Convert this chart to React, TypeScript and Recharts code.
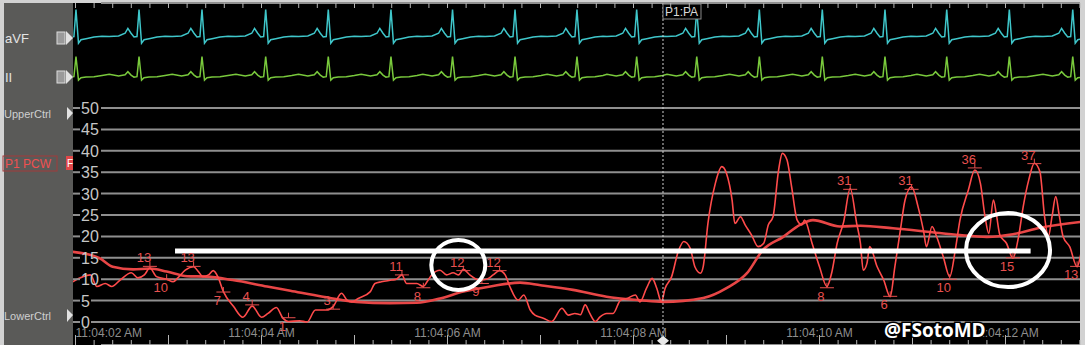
import React from "react";
import {
  CartesianGrid,
  ComposedChart,
  Line,
  ReferenceDot,
  ReferenceLine,
  Scatter,
  XAxis,
  YAxis,
} from "recharts";

// time = seconds after 11:04:02 AM, pressure in mmHg
const PCW: [number, number][] = [
  [-0.03, 9.4], [0.16, 11], [0.23, 8.3], [0.32, 9], [0.39, 8.3], [0.48, 9.8], [0.6, 11.5],
  [0.67, 10.3], [0.74, 11], [0.8, 12.6], [0.87, 10.6], [0.98, 10], [1.05, 9.4], [1.1, 10.3],
  [1.18, 12.1], [1.27, 12.9], [1.32, 11.8], [1.37, 10.6], [1.43, 11], [1.48, 12], [1.53, 10.6],
  [1.59, 7.1], [1.7, 3.6], [1.8, 1.1], [1.9, 3.7], [2.0, 1.1], [2.07, 2], [2.16, 3.4],
  [2.23, 0.9], [2.29, 0.1], [2.41, 0.3], [2.49, 0], [2.58, 2.8], [2.7, 2.8], [2.77, 3.6],
  [2.86, 6.7], [2.92, 5.1], [2.97, 4.7], [3.04, 5.5], [3.17, 7.1], [3.22, 9], [3.29, 9.4],
  [3.4, 9.8], [3.45, 10], [3.51, 11], [3.56, 9], [3.67, 9], [3.74, 8.3], [3.78, 9.4],
  [3.83, 11], [3.92, 12.1], [3.99, 11], [4.06, 11.5], [4.12, 11], [4.17, 12.3], [4.24, 11],
  [4.31, 10], [4.37, 9.8], [4.44, 10.2], [4.49, 11], [4.56, 12], [4.62, 11], [4.67, 8.3],
  [4.76, 5.1], [4.82, 6.3], [4.89, 2.8], [4.94, 1.6], [5.03, 0.9], [5.12, 0.1], [5.23, 3.2],
  [5.3, 1.6], [5.37, 2], [5.43, 1.7], [5.48, 4], [5.53, 2], [5.59, 0.1], [5.64, 1.2],
  [5.71, 2], [5.78, 2], [5.86, 5.1], [5.93, 5.5], [6.02, 6.3], [6.07, 4.7], [6.14, 7.9],
  [6.2, 10.2], [6.25, 7.9], [6.3, 4.7], [6.34, 7.9], [6.41, 10.6], [6.48, 16.4], [6.54, 18.8],
  [6.61, 17.2], [6.66, 12.9], [6.72, 11.4], [6.75, 13], [6.8, 23], [6.88, 32.4], [6.95, 36.3],
  [7.0, 34.7], [7.06, 28.5], [7.09, 23], [7.15, 24.6], [7.2, 22.7], [7.27, 20.3], [7.34, 17.6],
  [7.4, 18.4], [7.45, 22.7], [7.5, 24.6], [7.56, 35.5], [7.6, 39.4], [7.65, 37.9], [7.7, 31.6],
  [7.76, 23.8], [7.81, 22.7], [7.84, 23.8], [7.92, 18.4], [8.0, 12.9], [8.08, 8.3], [8.13, 11.4],
  [8.19, 18.4], [8.26, 23.4], [8.33, 31.2], [8.4, 23], [8.44, 18.4], [8.47, 12.1], [8.51, 13.7],
  [8.54, 17.6], [8.62, 12.9], [8.69, 9.8], [8.76, 5.9], [8.81, 12.9], [8.87, 21.5], [8.92, 28.5],
  [8.99, 31.6], [9.06, 26.9], [9.12, 21.1], [9.15, 17.6], [9.21, 22.3], [9.26, 19.9], [9.33, 15.3],
  [9.4, 10.6], [9.46, 16.8], [9.51, 23.8], [9.6, 30.8], [9.67, 35.5], [9.73, 32.4], [9.78, 24.6],
  [9.82, 20.7], [9.87, 28.5], [9.9, 25.4], [9.94, 20.3], [10.01, 18.4], [10.08, 14.9], [10.14, 19.9],
  [10.19, 26.9], [10.25, 33.2], [10.31, 37.1], [10.37, 35.1], [10.42, 24.6], [10.46, 19.9],
  [10.5, 24.6], [10.54, 29.3], [10.58, 24.6], [10.62, 19.9], [10.69, 17.6], [10.77, 12.9],
  [10.82, 16.8], [10.86, 20],
];

const PCW_MEAN: [number, number][] = [
  [-0.03, 16.4], [0.26, 14.9], [0.4, 12.9], [0.62, 12.3], [0.8, 12.5], [0.98, 11.8], [1.2, 10.7],
  [1.41, 10.6], [1.69, 9.8], [2.06, 8.3], [2.31, 7.3], [2.66, 5.9], [3.02, 4.7], [3.38, 4.4],
  [3.67, 4.5], [3.92, 5.5], [4.17, 7.1], [4.46, 8.3], [4.78, 9.2], [5.0, 8.6], [5.35, 7.5],
  [5.71, 5.9], [6.07, 5.1], [6.32, 4.7], [6.75, 5.6], [7.0, 7.9], [7.22, 11.4], [7.39, 16.8],
  [7.61, 19.9], [7.79, 22.7], [7.93, 23.8], [8.22, 22.3], [8.44, 22.5], [8.79, 21.9],
  [9.16, 21.1], [9.51, 20.3], [9.8, 19.9], [10.08, 20.5], [10.37, 22], [10.86, 23.5],
];

// peak / trough readouts on the PCW trace
const MARK_T = [0.8, 0.98, 1.27, 1.59, 1.9, 2.29, 2.77, 3.51, 3.74, 4.17, 4.37, 4.56, 8.08, 8.33, 8.76, 8.99, 9.4, 9.67, 10.08, 10.31, 10.77];
const MARK_V = [13, 10, 13, 7, 4, 1, 3, 11, 8, 12, 9, 12, 8, 31, 6, 31, 10, 36, 15, 37, 13];
const MARK_KIND = ["max", "min", "max", "min", "max", "min", "max", "max", "min", "max", "min", "max", "min", "max", "min", "max", "min", "max", "min", "max", "min"];

const R_TIMES = [0.005, 0.683, 1.36, 2.045, 2.718, 3.392, 4.054, 4.726, 5.392, 6.034, 6.68, 7.353, 8.03, 8.704, 9.368, 10.041, 10.723];
const BEAT_DT = [-0.32, -0.22, -0.15, -0.12, -0.086, -0.054, -0.022, 0, 0.027, 0.054, 0.108, 0.194, 0.28];
const BEAT_AVF = [0, 0.02, 0.12, 0.3, 0.12, -0.02, 0, 1.0, -0.25, -0.12, -0.08, -0.02, 0.01];
const BEAT_II = [0.12, 0.03, 0.1, 0.25, 0.08, -0.02, 0, 1.0, -0.17, -0.05, -0.02, 0, 0.06];

const TIME_LABELS = ["11:04:02 AM", "11:04:04 AM", "11:04:06 AM", "11:04:08 AM", "11:04:10 AM", "11:04:12 AM"];
const P_TICKS = [0, 5, 10, 15, 20, 25, 30, 35, 40, 45, 50];

// overlays
const REF_LEVEL = 16.6;
const REF_FROM = 1.07;
const REF_TO = 10.27;
const CIRCLE_T = [4.116, 10.027];
const CIRCLE_V = [13.3, 16.8];
const PA_MARK = 6.317;

const W = 1085;
const H = 345;
const LEFT = 73;
const T_DOMAIN = [-0.027, 10.801];
const P_DOMAIN = [-5.374, 74.533];
const AVF_DOMAIN = [-11.426, 1.2407];
const II_DOMAIN = [-13.415, 3.685];
const TIME_TICKS = Array.from({ length: 55 }, (_, i) => Math.round(i * 2) / 10);

const RED = "#ff4b4b";
const LABEL_RED = "#e8504f";
const GRID = "#8f8f8f";
const FONT = "'Liberation Sans', Arial, sans-serif";

const pcwData = PCW.map(([t, v]) => ({ t, v }));
const meanData = PCW_MEAN.map(([t, v]) => ({ t, v }));
const marks = MARK_T.map((t, i) => ({ t, v: MARK_V[i], kind: MARK_KIND[i] }));
const ecg = R_TIMES.flatMap((r) =>
  BEAT_DT.map((d, i) => ({ t: Math.round((r + d) * 1000) / 1000, avf: BEAT_AVF[i], ii: BEAT_II[i] }))
);

function TimeTick(props: any) {
  const { x, payload } = props;
  const t = payload.value;
  const whole = Math.abs(t - Math.round(t)) < 0.01;
  const idx = Math.round(t) / 2;
  const label = whole && Math.round(t) % 2 === 0 ? TIME_LABELS[idx] : null;
  return (
    <g>
      <line x1={x} x2={x} y1={3} y2={8} stroke="#b5b5b5" strokeWidth={1} />
      <line x1={x} x2={x} y1={whole ? 335 : 340} y2={H} stroke="#b5b5b5" strokeWidth={1} />
      {label && (
        <text x={idx === 0 ? x : x} y={337} textAnchor={idx === 0 ? "start" : "middle"} fontSize={12} fill="#8e8e8e" fontFamily={FONT}>
          {label}
        </text>
      )}
    </g>
  );
}

function PTick(props: any) {
  const { y, payload } = props;
  return (
    <g>
      <line x1={LEFT} x2={LEFT + 7} y1={y} y2={y} stroke={GRID} strokeWidth={2} />
      <text x={LEFT + 8} y={y + 6} fontSize={16} fill="#c6c6c6" fontFamily={FONT}>
        {payload.value}
      </text>
    </g>
  );
}

function Mark(props: any) {
  const { cx, cy, payload } = props;
  const peak = payload.kind === "max";
  return (
    <g>
      <line x1={cx - 7} x2={cx + 7} y1={cy} y2={cy} stroke={LABEL_RED} strokeWidth={1} />
      <line x1={cx} x2={cx} y1={cy - 5} y2={cy} stroke={LABEL_RED} strokeWidth={1} />
      <text x={cx - 6} y={peak ? cy - 4 : cy + 13} textAnchor="middle" fontSize={13} fill={LABEL_RED} fontFamily={FONT}>
        {payload.v}
      </text>
    </g>
  );
}

const CIRCLE_R = [
  [27, 25],
  [42, 37],
];

export default function App() {
  return (
    <div style={{ position: "absolute", left: 0, top: 0, width: W, height: H, background: "#d2d2d2", overflow: "hidden" }}>
      <div style={{ position: "absolute", left: 4, top: 3, width: LEFT - 4, height: H - 3, background: "#5a5a58" }} />
      <div style={{ position: "absolute", left: LEFT, top: 3, width: 1007, height: H - 3, background: "#000" }} />
      <div style={{ position: "absolute", left: 0, top: 0 }}>
        <ComposedChart width={W} height={H} margin={{ top: 3, right: 5, bottom: 0, left: LEFT }}>
          <CartesianGrid
            yAxisId="p"
            vertical={false}
            horizontal={(p: any) => (
              <line key={p.key} x1={p.index < 2 ? LEFT + 18 : LEFT + 28} x2={p.x2} y1={p.y1} y2={p.y2} stroke={GRID} strokeWidth={2} />
            )}
          />
          <XAxis
            dataKey="t"
            type="number"
            domain={T_DOMAIN}
            allowDataOverflow
            ticks={TIME_TICKS}
            interval={0}
            mirror
            axisLine={false}
            tickLine={false}
            tick={<TimeTick />}
          />
          <YAxis
            yAxisId="p"
            type="number"
            domain={P_DOMAIN}
            allowDataOverflow
            ticks={P_TICKS}
            interval={0}
            mirror
            axisLine={false}
            tickLine={false}
            tick={<PTick />}
          />
          <YAxis yAxisId="avf" type="number" domain={AVF_DOMAIN} allowDataOverflow hide />
          <YAxis yAxisId="ii" type="number" domain={II_DOMAIN} allowDataOverflow hide />

          <Line yAxisId="avf" data={ecg} dataKey="avf" type="linear" stroke="#3fc6ca" strokeWidth={1.5} dot={false} isAnimationActive={false} />
          <Line yAxisId="ii" data={ecg} dataKey="ii" type="linear" stroke="#79c93c" strokeWidth={1.5} dot={false} isAnimationActive={false} />
          <Line yAxisId="p" data={meanData} dataKey="v" type="monotone" stroke="#e84646" strokeWidth={2.6} dot={false} isAnimationActive={false} />
          <Line yAxisId="p" data={pcwData} dataKey="v" type="monotone" stroke={RED} strokeWidth={1.6} dot={false} isAnimationActive={false} />
          <Scatter yAxisId="p" data={marks} dataKey="v" shape={<Mark />} isAnimationActive={false} />

          <ReferenceLine
            yAxisId="p"
            x={PA_MARK}
            stroke="#cfcfcf"
            strokeWidth={1}
            strokeDasharray="2 2"
            label={(p: any) => {
              const x = p.viewBox ? p.viewBox.x : 0;
              return (
                <g>
                  <rect x={x} y={4} width={38} height={15} fill="#000" stroke="#8a8a8a" strokeWidth={1} />
                  <text x={x + 2} y={16} fontSize={12} fill="#d8d8d8" fontFamily={FONT}>
                    P1:PA
                  </text>
                </g>
              );
            }}
          />
          <ReferenceDot
            yAxisId="p"
            x={PA_MARK}
            y={-4.4}
            r={5}
            shape={(p: any) => (
              <polygon points={`${p.cx - 6},${p.cy} ${p.cx},${p.cy - 5} ${p.cx + 6},${p.cy} ${p.cx},${p.cy + 5}`} fill="#e8e8e8" />
            )}
          />
          <ReferenceLine
            yAxisId="p"
            segment={[
              { x: REF_FROM, y: REF_LEVEL },
              { x: REF_TO, y: REF_LEVEL },
            ]}
            stroke="#ffffff"
            strokeWidth={5}
          />
          {CIRCLE_T.map((t, i) => (
            <ReferenceDot
              key={i}
              yAxisId="p"
              x={t}
              y={CIRCLE_V[i]}
              r={5}
              shape={(p: any) => (
                <ellipse cx={p.cx} cy={p.cy} rx={CIRCLE_R[i][0]} ry={CIRCLE_R[i][1]} fill="none" stroke="#ffffff" strokeWidth={4} />
              )}
            />
          ))}
        </ComposedChart>
      </div>

      <svg width={W} height={H} style={{ position: "absolute", left: 0, top: 0, pointerEvents: "none" }} fontFamily={FONT}>
        <text x={5} y={43} fontSize={13} fill="#e4e4e4">aVF</text>
        <rect x={57} y={32} width={8} height={12} fill="#9a9a9a" stroke="#dcdcdc" strokeWidth={1} />
        <polygon points="66,31 73,38 66,45" fill="#e2e2e2" />
        <text x={5} y={82} fontSize={13} fill="#e4e4e4">II</text>
        <rect x={57} y={71} width={8} height={12} fill="#9a9a9a" stroke="#dcdcdc" strokeWidth={1} />
        <polygon points="66,70 73,77 66,84" fill="#e2e2e2" />
        <text x={4} y={118} fontSize={11} fill="#cfcfcf">UpperCtrl</text>
        <polygon points="67,107 73,113 67,120" fill="#e2e2e2" />
        <rect x={3} y={156} width={54} height={15} fill="none" stroke="#a23a3a" strokeWidth={1} />
        <text x={5} y={168} fontSize={12} fill="#f05050">P1 PCW</text>
        <rect x={66} y={156} width={7} height={14} fill="#e04848" />
        <text x={67} y={167} fontSize={10} fill="#ffffff">F</text>
        <text x={4} y={320} fontSize={11} fill="#cfcfcf">LowerCtrl</text>
        <polygon points="67,309 73,315 67,322" fill="#e2e2e2" />
        <text
          x={884}
          y={337}
          fontSize={19}
          fontWeight="bold"
          fill="#ffffff"
          stroke="#000000"
          strokeWidth={3}
          paintOrder="stroke"
          fontFamily="'Open Sans', 'Liberation Sans', sans-serif"
        >
          @FSotoMD
        </text>
      </svg>
    </div>
  );
}
